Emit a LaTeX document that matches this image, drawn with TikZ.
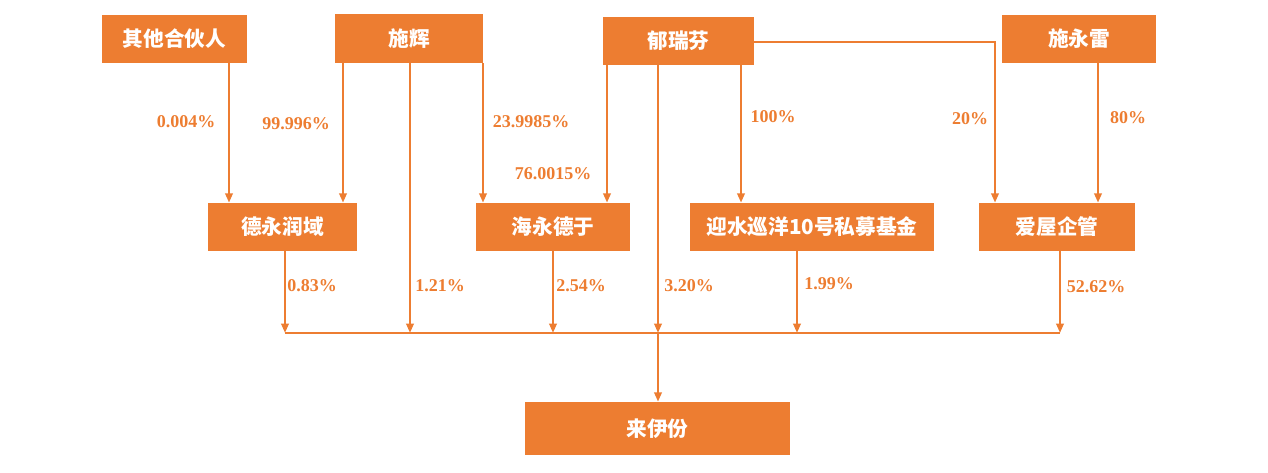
\documentclass[tikz,border=0pt]{standalone}
\usepackage{fontspec}
\setmainfont{Liberation Serif}
\newfontfamily\cjk{Noto Sans CJK SC}
\usetikzlibrary{arrows.meta}
\definecolor{org}{HTML}{ED7D31}
\tikzset{
  box/.style={fill=org, text=white, inner sep=0pt, minimum height=36pt,
    font=\cjk\bfseries\fontsize{15.5}{18}\selectfont},
  arr/.style={draw=org, line width=1.8pt, -{Triangle[length=7pt,width=5.5pt]}},
  ln/.style={draw=org, line width=1.8pt},
  pct/.style={text=org, font=\bfseries\fontsize{13.5}{16}\selectfont, inner sep=0pt}
}
\begin{document}
\begin{tikzpicture}[x=0.75pt,y=-0.75pt]
\useasboundingbox (0,0) rectangle (1268,473);
% top row
\node[box, minimum width=108.75pt] (qt) at (174.5,39) {其他合伙人};
\node[box, minimum width=111pt, minimum height=36.75pt] (sh) at (409,38.5) {施辉};
\node[box, minimum width=113.25pt] (yrf) at (678.5,41) {郁瑞芬};
\node[box, minimum width=115.5pt] (syl) at (1079,39) {施永雷};
% middle row
\node[box, minimum width=111.75pt] (dy) at (282.5,227) {德永润域};
\node[box, minimum width=115.5pt] (hy) at (553,227) {海永德于};
\node[box, minimum width=183pt] (ys) at (812,227) {迎水巡洋10号私募基金};
\node[box, minimum width=117pt] (aw) at (1057,227) {爱屋企管};
% bottom
\node[box, minimum width=198.75pt, minimum height=39.75pt] (lyf) at (657.5,428.5) {来伊份};
% columns
\coordinate (c1) at (229,0);
\coordinate (c2) at (343,0);
\coordinate (c3) at (410,0);
\coordinate (c4) at (483,0);
\coordinate (c5) at (607,0);
\coordinate (c6) at (658,0);
\coordinate (c7) at (741,0);
\coordinate (c8) at (995,0);
\coordinate (c9) at (1098,0);
\coordinate (d1) at (285,0);
\coordinate (d3) at (553,0);
\coordinate (d5) at (797,0);
\coordinate (d6) at (1060,0);
\coordinate (bus) at (0,333);
\coordinate (hz) at (0,42);
% top to middle
\draw[arr] (qt.south -| c1) -- (dy.north -| c1);
\draw[arr] (sh.south -| c2) -- (dy.north -| c2);
\draw[arr] (sh.south -| c4) -- (hy.north -| c4);
\draw[arr] (yrf.south -| c5) -- (hy.north -| c5);
\draw[arr] (yrf.south -| c7) -- (ys.north -| c7);
\draw[arr] (yrf.east |- hz) -- (hz -| c8) -- (aw.north -| c8);
\draw[arr] (syl.south -| c9) -- (aw.north -| c9);
% to bus
\draw[arr] (dy.south -| d1) -- (bus -| d1);
\draw[arr] (sh.south -| c3) -- (bus -| c3);
\draw[arr] (hy.south -| d3) -- (bus -| d3);
\draw[arr] (yrf.south -| c6) -- (bus -| c6);
\draw[arr] (ys.south -| d5) -- (bus -| d5);
\draw[arr] (aw.south -| d6) -- (bus -| d6);
\draw[ln] (bus -| d1) -- (bus -| d6);
\draw[arr] (bus -| c6) -- (lyf.north -| c6);
% labels
\node[pct] (l1) at (186,122) {0.004\%};
\node[pct] (l2) at (296,124) {99.996\%};
\node[pct] (l3) at (531,122) {23.9985\%};
\node[pct] (l4) at (553,174) {76.0015\%};
\node[pct] (l5) at (773,117) {100\%};
\node[pct] (l6) at (970,119) {20\%};
\node[pct] (l7) at (1128,118) {80\%};
\node[pct] (l8) at (312,286) {0.83\%};
\node[pct] (l9) at (440,286) {1.21\%};
\node[pct] (l10) at (581,286) {2.54\%};
\node[pct] (l11) at (689,286) {3.20\%};
\node[pct] (l12) at (829,284) {1.99\%};
\node[pct] (l13) at (1096,287) {52.62\%};
\end{tikzpicture}
\end{document}
